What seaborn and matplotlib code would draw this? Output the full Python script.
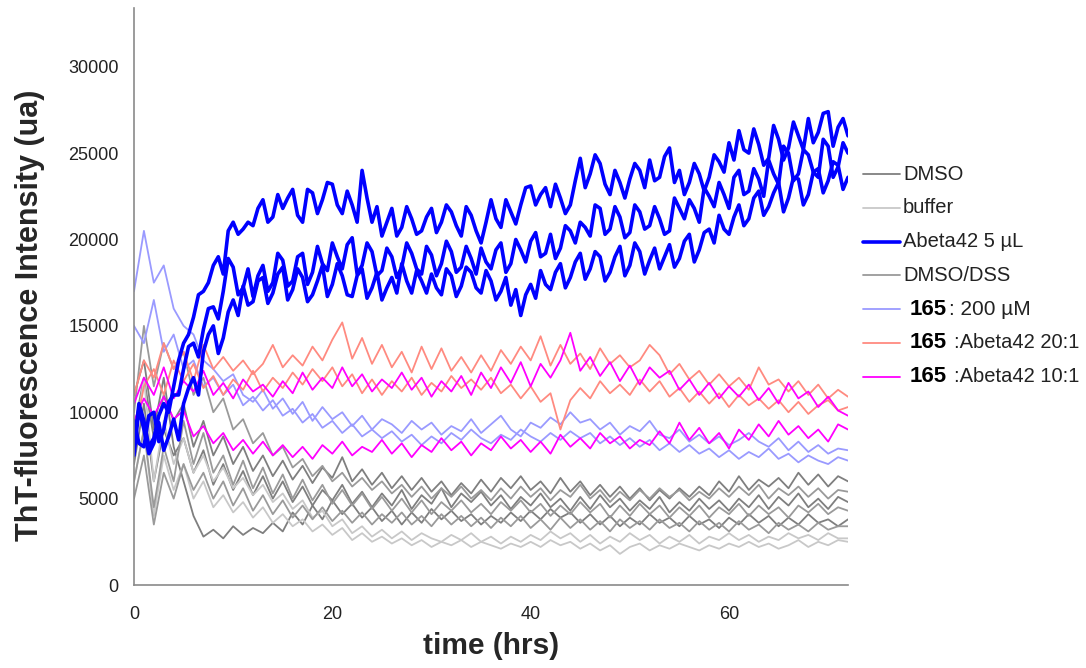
import numpy as np
import pandas as pd
import matplotlib
matplotlib.use("Agg")
import matplotlib.pyplot as plt
from matplotlib.lines import Line2D
import seaborn as sns

# reading grids: Abeta wells every half hour, the rest every hour
hours_fine = np.arange(0, 72.5, 0.5)
hours = np.arange(73)

# Abeta42 5 uL (three wells, half-hour readings)
abeta_a = [8000, 10500, 9500, 8000, 8500, 9800, 10500, 10000, 11500, 13000,
           14000, 14500, 15500, 16800, 17000, 17500, 18500, 19000, 18000, 20500,
           21000, 20300, 20600, 21000, 20800, 21800, 22300, 21000, 21300, 22600,
           21800, 22400, 22900, 21400, 21000, 22900, 22700, 21500, 22300, 23300,
           23200, 22000, 21500, 22800, 22000, 21000, 24000, 22400, 21000, 21900,
           20200, 21000, 21800, 20200, 20700, 21900, 21200, 20300, 20500, 21300,
           21800, 20400, 21000, 22000, 21600, 20800, 20200, 21900, 21400, 20500,
           19800, 21000, 22300, 21200, 20700, 22300, 21600, 20900, 22000, 23000,
           23100, 22000, 22600, 23000, 21900, 23200, 22400, 21500, 22000, 23400,
           24700, 23000, 23800, 24900, 24400, 23200, 22600, 24000, 23300, 22400,
           23500, 24400, 24000, 23000, 24600, 23400, 23600, 24800, 25300, 23300,
           24000, 22600, 23300, 24400, 23800, 22800, 23600, 24900, 24500, 23900,
           25600, 24600, 26300, 25200, 25000, 26400, 25500, 24300, 24700, 26600,
           25800, 24600, 25300, 26800, 26000, 25200, 27000, 25600, 26200, 27300,
           27400, 25400, 26500, 27000, 26000]
abeta_b = [9500, 8200, 8000, 9800, 10000, 8300, 9000, 10600, 11000, 11000,
           12500, 13800, 14000, 13200, 14800, 16000, 16100, 15400, 17000, 18900,
           18400, 16800, 17200, 18300, 16700, 17900, 18500, 17000, 17500, 19200,
           18800, 17300, 17600, 19000, 19200, 17400, 18100, 19600, 18600, 18200,
           19800, 19000, 18300, 19700, 20100, 18000, 18500, 19800, 19300, 17900,
           18200, 19500, 19000, 17800, 18400, 19800, 19200, 18300, 18000, 19600,
           19100, 17900, 18600, 19900, 19300, 18100, 18400, 19600, 18900, 18000,
           19500, 18700, 18300, 19400, 19800, 18100, 18600, 20000, 19400, 18700,
           19900, 20400, 19000, 19200, 20300, 18900, 19500, 20800, 20500, 19800,
           21000, 20700, 20200, 22000, 21800, 20300, 20600, 21900, 21300, 20100,
           20400, 22000, 21600, 20600, 20800, 21900, 21200, 20300, 20500, 22400,
           21800, 21200, 22300, 21800, 21000, 23000, 22500, 21900, 23300, 22600,
           21800, 23600, 24000, 22600, 22800, 24100, 23500, 22500, 24600, 23800,
           23200, 25400, 25000, 23400, 23800, 25200, 24900, 23900, 23600, 25800,
           25400, 23600, 24200, 25600, 25000]
abeta_c = [7500, 10200, 9000, 7600, 8200, 9400, 7800, 8600, 9600, 8400,
           10500, 11400, 12000, 11000, 13500, 14500, 15000, 13400, 14300, 15800,
           16500, 15600, 17300, 16200, 16400, 17600, 17800, 16300, 16900, 18000,
           18400, 16500, 17100, 18300, 17800, 16400, 16800, 17600, 18500, 16700,
           17400, 18600, 17900, 16800, 16700, 17900, 18300, 16600, 17200, 18100,
           16500, 17200, 17800, 16900, 18600, 17600, 16900, 18200, 17600, 16900,
           18000, 17200, 16800, 18300, 17900, 16700, 17300, 18400, 18100, 17200,
           16900, 18200, 17600, 16500, 17000, 17800, 16200, 17100, 15600, 16800,
           17400, 16600, 18200, 17400, 17100, 18100, 18600, 17200, 17800, 18700,
           19200, 17700, 18300, 19300, 19000, 17600, 18100, 19000, 19600, 17900,
           18500, 19800, 19300, 18000, 18800, 19500, 18300, 19000, 19700, 18400,
           18900, 19900, 20300, 18700, 19400, 20400, 20600, 19800, 21400, 20600,
           20300, 21300, 22000, 20800, 21200, 22400, 22800, 21400, 21900, 22700,
           23300, 21600, 22400, 23600, 23500, 22000, 22600, 23900, 24100, 22700,
           23400, 24500, 24300, 22900, 23600]

# 165 : 200 uM
c200_a = [17000, 20500, 17500, 18500, 16000, 15000, 14500, 13000, 12500, 11800, 12200, 11000, 10600, 11300, 10200,
          10800, 9900, 10600, 9500, 10300, 9600, 10000, 9200, 9800, 9000, 9600, 9300, 8800, 9500, 9000,
          9400, 8700, 9200, 8900, 9600, 8800, 9300, 9800, 9000, 8600, 9400, 9100, 9700, 9300, 10000,
          9400, 9600, 9000, 9400, 8700, 9200, 8900, 9500, 8700, 8500, 9000, 8300, 8700, 8200, 8600,
          8100, 8400, 8800, 8300, 8000, 8500, 7800, 8300, 7700, 8100, 7600, 7900, 7800]
c200_b = [15000, 14000, 16500, 13500, 14500, 12500, 13000, 11500, 12000, 11000, 11600, 10400, 10900, 10100, 10700,
          9800, 10200, 9400, 9900, 9100, 9500, 8800, 9300, 8600, 9000, 8500, 8900, 8300, 8700, 8100,
          8600, 8200, 8800, 8400, 9000, 8500, 8200, 8700, 8400, 9000, 8600, 8300, 8800, 8400, 8900,
          8500, 8800, 8200, 8600, 8100, 8500, 8000, 8400, 7800, 8200, 7700, 8100, 7600, 7900, 7400,
          7800, 7300, 7700, 7400, 7900, 7300, 7600, 7100, 7500, 7200, 7000, 7400, 7200]

# 165 : Abeta42 20:1
r20_a = [11000, 13000, 12000, 14000, 12500, 13500, 11800, 13900, 12500, 13200, 12400, 13000, 12200, 12800, 13900,
         12600, 13300, 12700, 13800, 13000, 14200, 15200, 13100, 14300, 12800, 13900, 12600, 13500, 12300, 13800,
         12500, 13700, 12400, 13200, 12300, 13300, 12400, 13600, 12800, 13800, 13000, 14400, 12700, 13900, 12800,
         13400, 12500, 13700, 12800, 13300, 12600, 13000, 13900, 13300, 12200, 12800, 11900, 12400, 11600, 12200,
         11500, 12000, 11300, 12600, 11600, 11900, 11200, 11800, 11000, 11600, 10800, 11300, 10900]
r20_b = [8500, 11500, 12500, 11000, 13000, 11800, 12800, 11400, 12100, 11000, 11900, 11300, 12400, 11200, 12000,
         11400, 12300, 11600, 12500, 11800, 12600, 11500, 12200, 11100, 11900, 11000, 11800, 11200, 12000, 11000,
         11700, 11200, 12100, 11400, 11900, 11300, 12000, 11100, 11600, 10800, 11500, 10600, 11100, 9000, 10700,
         11400, 10800, 11800, 11100, 11600, 11000, 11900, 11200, 11800, 10900, 11400, 10600, 11200, 10500, 11100,
         10300, 11000, 10400, 10800, 10200, 10700, 10000, 10600, 9900, 10400, 10700, 10100, 10300]

# 165 : Abeta42 10:1
r10_a = [10500, 12000, 11000, 12600, 10800, 11800, 11200, 12400, 11000, 11700, 10800, 11900, 11200, 11600, 10900,
         11800, 11100, 12300, 11300, 12000, 11400, 12600, 11500, 12200, 11200, 11900, 11400, 12300, 11300, 12000,
         10900, 11800, 11200, 12100, 11000, 12300, 11400, 12600, 11700, 12900, 11500, 12800, 12000, 13000, 14600,
         12400, 13200, 12100, 12900, 11800, 12700, 11600, 12600, 12000, 12400, 11300, 11900, 11000, 11700, 10800,
         11500, 10900, 11600, 10700, 11400, 10500, 11700, 10800, 11200, 10300, 10900, 10100, 9800]
r10_b = [9500, 10800, 9800, 10900, 9600, 10100, 8600, 9200, 8200, 8800, 7800, 8400, 7600, 8300, 7500,
         8100, 7400, 8000, 7300, 8100, 7600, 8300, 7500, 8000, 7700, 8400, 7600, 8200, 7400, 8100,
         7700, 8500, 7800, 8300, 7500, 8200, 7800, 8600, 7900, 8400, 7700, 8300, 7600, 8700, 8000,
         8500, 7900, 8800, 8200, 8600, 7900, 8400, 8100, 8900, 8200, 9400, 8400, 9100, 8200, 8800,
         7900, 9000, 8400, 9300, 8600, 9500, 8700, 9200, 8500, 9000, 8300, 9300, 9000]

# DMSO
dmso_a = [9000, 12000, 8500, 11000, 9500, 10500, 8000, 9500, 7500, 8600, 7000, 8000, 6600, 7500, 6300,
          7200, 6100, 6900, 5900, 6800, 6200, 7400, 6000, 6700, 5800, 6500, 5600, 6300, 5500, 6200,
          5400, 6000, 5200, 5900, 5300, 6100, 5400, 6200, 5600, 6300, 5500, 6000, 5300, 6200, 5400,
          6000, 5200, 5800, 5100, 5700, 5000, 5600, 4900, 5500, 5000, 5600, 5100, 5700, 5200, 6000,
          5400, 6300, 5500, 6100, 5700, 6200, 5600, 6500, 5800, 6400, 5700, 6300, 6000]
dmso_b = [7000, 10500, 6000, 9000, 7500, 8500, 6500, 7800, 5800, 7000, 5500, 6600, 5200, 6300, 5000,
          6000, 4800, 5700, 4600, 5500, 4900, 5800, 4700, 5400, 4500, 5300, 4600, 5500, 4400, 5200,
          4700, 5600, 4500, 5300, 4800, 5400, 4600, 5200, 4400, 5100, 4600, 5300, 4500, 5000, 4300,
          5100, 4400, 5200, 4500, 5000, 4300, 4900, 4400, 5100, 4200, 4800, 4300, 5000, 4400, 4900,
          4300, 5000, 4500, 5200, 4400, 5100, 4600, 5300, 4500, 5000, 4400, 5100, 4800]
dmso_c = [11000, 13000, 9000, 12000, 8000, 6000, 4000, 2800, 3200, 2700, 3400, 2900, 3300, 3000, 3600,
          3100, 4200, 3500, 4600, 3800, 4900, 4100, 4700, 3900, 4500, 3700, 4300, 3500, 4200, 3600,
          4400, 3800, 4300, 3700, 4100, 3500, 4000, 3600, 4200, 3700, 4300, 3800, 4400, 3900, 4200,
          3600, 4100, 3500, 4000, 3400, 3900, 3500, 4100, 3600, 3900, 3400, 4000, 3500, 3800, 3300,
          3900, 3500, 4100, 3600, 4000, 3400, 3900, 3500, 4100, 3600, 3800, 3400, 3800]

# DMSO/DSS
dss_a = [10000, 15000, 11500, 14000, 12500, 13500, 11000, 12000, 10000, 10800, 9000, 9600, 8200, 8800, 7500,
         8000, 6800, 7300, 6300, 6900, 6000, 6500, 5700, 6200, 5500, 6000, 5300, 5800, 5100, 5700,
         5000, 5600, 5100, 5700, 5000, 5500, 4900, 5600, 5000, 5700, 5100, 5600, 4900, 5500, 5100,
         5800, 5000, 5500, 4800, 5400, 4900, 5500, 5000, 5600, 5100, 5500, 4900, 5400, 5000, 5600,
         5100, 5700, 5200, 5800, 5000, 5600, 5200, 5700, 5100, 5600, 5000, 5500, 5400]
dss_b = [6000, 9000, 4500, 8000, 6000, 9500, 7000, 8800, 6500, 7500, 5800, 7200, 5600, 6800, 5300,
         6400, 5000, 6100, 4900, 5800, 4700, 5500, 4600, 5300, 4400, 5100, 4300, 5000, 4200, 4900,
         4100, 4800, 4300, 4900, 4200, 4700, 4100, 4800, 4300, 4900, 4200, 4700, 4000, 4600, 4100,
         4800, 4200, 4700, 3900, 4600, 4000, 4700, 4100, 4600, 3900, 4500, 4000, 4600, 3900, 4500,
         4100, 4700, 4000, 4600, 4100, 4500, 3900, 4600, 4200, 4700, 4100, 4500, 4300]
dss_c = [5000, 7500, 3500, 6500, 5000, 7000, 5500, 6500, 5000, 6000, 4600, 5600, 4300, 5200, 4100,
         4900, 3900, 4600, 3800, 4500, 3700, 4300, 3600, 4200, 3500, 4100, 3600, 4200, 3500, 4000,
         3400, 4100, 3500, 4000, 3400, 3900, 3300, 3900, 3400, 4000, 3300, 3800, 3200, 3900, 3300,
         3800, 3200, 3700, 3100, 3800, 3300, 3700, 3200, 3800, 3300, 3600, 3100, 3700, 3200, 3600,
         3100, 3700, 3200, 3500, 3000, 3600, 3200, 3500, 3100, 3600, 3200, 3400, 3400]

# buffer
buffer_a = [8000, 12000, 6000, 9500, 7000, 8500, 6500, 7500, 6000, 6800, 5600, 6200, 5200, 5800, 4800,
            5300, 4400, 4900, 3900, 4300, 3400, 3800, 3000, 3400, 2800, 3200, 2700, 3100, 2600, 3000,
            2700, 2500, 2900, 2600, 3000, 2500, 2800, 2400, 2800, 2500, 2900, 2600, 3100, 2700, 3000,
            2500, 2900, 2400, 2800, 2500, 3000, 2600, 2900, 2400, 2800, 2500, 2900, 2400, 2800, 2600,
            3000, 2600, 2900, 2500, 2800, 2600, 3000, 2700, 2900, 2600, 3000, 2700, 2700]
buffer_b = [6000, 9000, 4000, 7500, 5500, 7000, 5000, 6000, 4500, 5200, 4200, 4800, 3900, 4500, 3600,
            4100, 3400, 3800, 3100, 3500, 2900, 3300, 2600, 3000, 2500, 2800, 2400, 2700, 2300, 2600,
            2200, 2500, 2300, 2600, 2200, 2500, 2300, 2100, 2400, 2200, 2500, 2200, 2600, 2300, 2500,
            2100, 2400, 2000, 2300, 1800, 2200, 2400, 2000, 2300, 2100, 2400, 2200, 2000, 2300, 2100,
            2400, 2200, 2500, 2200, 2400, 2100, 2300, 2600, 2200, 2500, 2300, 2600, 2500]

groups = ["DMSO", "buffer", "DMSO/DSS", "165: 200 µM", "165 :Abeta42 20:1", "165 :Abeta42 10:1", "Abeta42 5 µL"]
wells = {
    "DMSO": [dmso_a, dmso_b, dmso_c],
    "buffer": [buffer_a, buffer_b],
    "DMSO/DSS": [dss_a, dss_b, dss_c],
    "165: 200 µM": [c200_a, c200_b],
    "165 :Abeta42 20:1": [r20_a, r20_b],
    "165 :Abeta42 10:1": [r10_a, r10_b],
    "Abeta42 5 µL": [abeta_a, abeta_b, abeta_c],
}
colors = {
    "DMSO": "#7f7f7f",
    "buffer": "#c8c8c8",
    "DMSO/DSS": "#9a9a9a",
    "165: 200 µM": "#9a9aff",
    "165 :Abeta42 20:1": "#ff8a80",
    "165 :Abeta42 10:1": "#ff00ff",
    "Abeta42 5 µL": "#0000ff",
}
widths = {g: 1.3 for g in groups}
widths["Abeta42 5 µL"] = 2.6

rows = []
for g in groups:
    for i, vals in enumerate(wells[g]):
        grid = hours_fine if len(vals) == len(hours_fine) else hours
        for t, v in zip(grid, vals):
            rows.append((g, f"{g}_{i}", t, v))
df = pd.DataFrame(rows, columns=["group", "well", "time", "signal"])

sns.set_style("white")
plt.rcParams["font.family"] = ["Liberation Sans", "DejaVu Sans"]

fig = plt.figure(figsize=(10.86, 6.68), dpi=100)
ax = fig.add_axes([134 / 1086, 1 - 585 / 668, (848 - 134) / 1086, (585 - 8) / 668])

for g in groups:
    sub = df[df["group"] == g]
    sns.lineplot(data=sub, x="time", y="signal", units="well", estimator=None,
                 color=colors[g], lw=widths[g], ax=ax, legend=False)

ax.set_xlim(0, 72)
ax.set_ylim(0, 33400)
ax.set_xticks([0, 20, 40, 60])
ax.set_yticks(range(0, 30001, 5000))
for side in ["top", "right"]:
    ax.spines[side].set_visible(False)
for side in ["left", "bottom"]:
    ax.spines[side].set_color("#8a8a8a")
    ax.spines[side].set_linewidth(1.2)
ax.tick_params(axis="both", direction="out", length=5, width=1, color="#8a8a8a",
               labelsize=13, labelcolor="#222222", pad=6)
ax.tick_params(axis="x", pad=10)

ax.set_xlabel("time (hrs)", fontsize=21.5, fontweight="bold")
ax.set_ylabel("ThT-fluorescence Intensity (ua)", fontsize=22, fontweight="bold")
ax.xaxis.set_label_coords(0.5, -0.082)
ax.yaxis.set_label_coords(-0.125, 0.468)

# legend, drawn entry by entry so the bold "165" can sit in its own font size
legend_order = ["DMSO", "buffer", "Abeta42 5 µL", "DMSO/DSS", "165: 200 µM", "165 :Abeta42 20:1", "165 :Abeta42 10:1"]
legend_rest = {
    "165: 200 µM": (": 200 µM", 15, 949),
    "165 :Abeta42 20:1": (":Abeta42 20:1", 14.5, 954),
    "165 :Abeta42 10:1": (":Abeta42 10:1", 14.5, 954),
}
W, H = 1086, 668
for i, g in enumerate(legend_order):
    y = 1 - (174 + 33.8 * i) / H
    fig.add_artist(Line2D([863 / W, 900 / W], [y, y], transform=fig.transFigure,
                          color=colors[g], lw=widths[g]))
    if g in legend_rest:
        fig.text(910 / W, y, "165", fontsize=16, fontweight="bold", color="black",
                 ha="left", va="center")
        rest, size, x0 = legend_rest[g]
        fig.text(x0 / W, y, rest, fontsize=size, color="#222222", ha="left", va="center")
    else:
        fig.text(903 / W, y, g, fontsize=14.5, color="#222222", ha="left", va="center")

fig.savefig("out.png", dpi=100)
